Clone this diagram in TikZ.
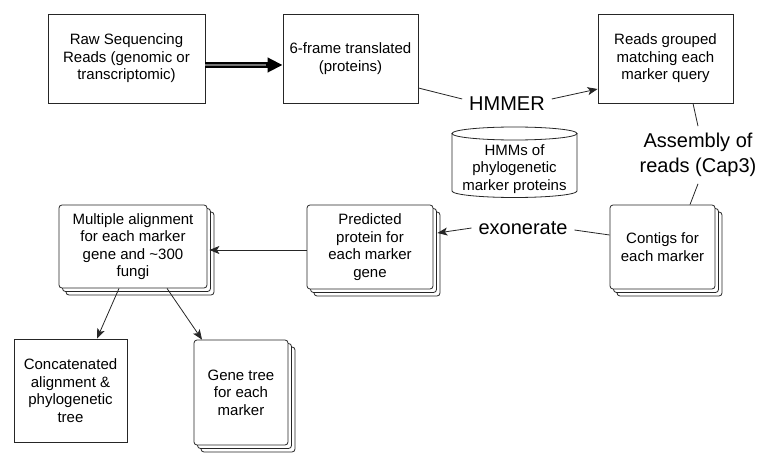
\documentclass[tikz,border=0pt]{standalone}
\usepackage{fontspec}
\setmainfont{Liberation Sans}
\usetikzlibrary{arrows.meta,shadows,calc}
\begin{document}
\begin{tikzpicture}[x=1pt,y=-1pt,
  every node/.style={inner sep=0pt},
  box/.style={draw=black!85, line width=0.8pt, fill=white, align=center,
    font=\fontsize{15}{17.5}\selectfont},
  stackbox/.style={box, rounded corners=3pt,
    double copy shadow={shadow xshift=3.5pt, shadow yshift=-3.5pt, draw=black!85, fill=white, line width=0.8pt}},
  lbl/.style={font=\fontsize{20}{25}\selectfont, align=center, inner sep=3pt, outer sep=4pt},
  conn/.style={draw=black!85, line width=0.8pt},
  tip/.style={-{Stealth[length=10pt,width=8pt,inset=2.5pt]}}
]
\useasboundingbox (0,0) rectangle (774,465);

% boxes
\node[box, minimum width=157pt, minimum height=89pt] (raw) at (126.5,58.5)
  {Raw Sequencing\\Reads (genomic or\\transcriptomic)};
\node[box, minimum width=135pt, minimum height=89pt] (six) at (350.5,58.5)
  {6-frame translated\\(proteins)};
\node[box, minimum width=135pt, minimum height=89pt] (grp) at (665.5,58.5)
  {Reads grouped\\matching each\\marker query};
\node[stackbox, minimum width=105pt, minimum height=84pt] (cont) at (662.5,247)
  {Contigs for\\each marker};
\node[stackbox, minimum width=126pt, minimum height=84pt] (pred) at (370,247)
  {Predicted\\protein for\\each marker\\gene};
\node[stackbox, minimum width=148pt, minimum height=83pt] (mult) at (133,246.5)
  {Multiple alignment\\for each marker\\gene and \textasciitilde300\\fungi};
\node[box, minimum width=113pt, minimum height=103pt] (conc) at (70.5,390.5)
  {Concatenated\\alignment \&\\phylogenetic\\tree};
\node[stackbox, minimum width=94pt, minimum height=105pt] (gene) at (241,392.5)
  {Gene tree\\for each\\marker};

% cylinder
\filldraw[draw=black!85, fill=white, line width=0.8pt]
  (452,133.5) -- (452,191) arc[start angle=180, end angle=0, x radius=62.5, y radius=6.5] -- (577,133.5);
\filldraw[draw=black!85, fill=white, line width=0.8pt]
  (514.5,133.5) ellipse[x radius=62.5, y radius=6.5];
\node[align=center, font=\fontsize{15}{17.5}\selectfont] (hmm) at (514.5,169)
  {HMMs of\\phylogenetic\\marker proteins};

% labels
\node[lbl] (hmmer) at (507,104) {HMMER};
\node[lbl] (asm) at (698,155) {Assembly of\\reads (Cap3)};
\node[lbl] (exo) at (523,228) {exonerate};

% thick arrow
\draw[line width=6pt, black, -{Triangle[length=15pt,width=14pt]}]
  ([yshift=-6.5pt]raw.east) -- ([yshift=-6.5pt]six.west);
\draw[line width=1.2pt, black!55]
  ([yshift=-6.5pt]raw.east) -- ([xshift=-17pt,yshift=-6.5pt]six.west);

% connectors
\draw[conn] ([yshift=-29.5pt]six.east) -- ([yshift=5pt]hmmer.west);
\draw[conn, tip] ([yshift=5pt]hmmer.east) -- ([yshift=-30.5pt]grp.west);

\draw[conn] ([xshift=27.5pt]grp.south) -- (asm.north);
\draw[conn] (asm.south) -- ([xshift=27.5pt]cont.north);

\draw[conn] ([yshift=12pt]cont.west) -- ([yshift=-2pt]exo.east);
\draw[conn, tip] (exo.west) -- ([xshift=4pt,yshift=14pt]pred.east);

\draw[conn, tip] ([yshift=-3pt]pred.west) -- ([xshift=2pt,yshift=-3.5pt]mult.east);

\draw[conn, tip] ([xshift=-14pt]mult.south) -- ([xshift=26.5pt]conc.north);
\draw[conn, tip] ([xshift=34pt]mult.south) -- ([xshift=-39pt]gene.north);
\end{tikzpicture}
\end{document}
